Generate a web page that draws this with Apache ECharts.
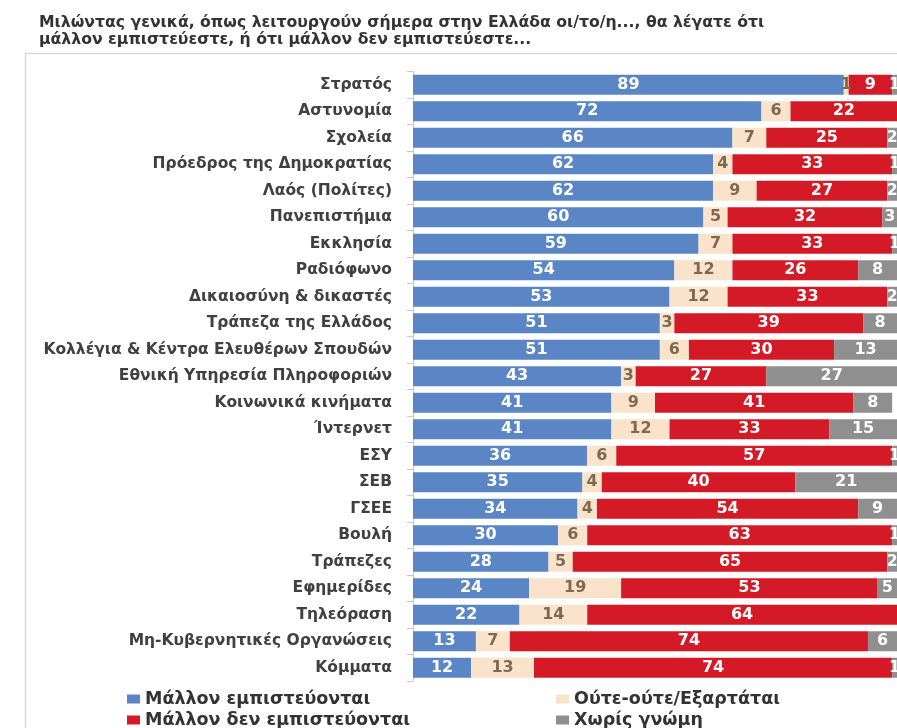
<!DOCTYPE html>
<html>
<head>
<meta charset="utf-8">
<script src="https://cdn.jsdelivr.net/npm/echarts@6/dist/echarts.min.js"></script>
<style>
html,body{margin:0;padding:0;background:#fff;}
#c{width:897px;height:728px;}
</style>
</head>
<body>
<div id="c"></div>
<script>
const categories = [
  'Στρατός','Αστυνομία','Σχολεία','Πρόεδρος της Δημοκρατίας','Λαός (Πολίτες)','Πανεπιστήμια',
  'Εκκλησία','Ραδιόφωνο','Δικαιοσύνη & δικαστές','Τράπεζα της Ελλάδος',
  'Κολλέγια & Κέντρα Ελευθέρων Σπουδών','Εθνική Υπηρεσία Πληροφοριών','Κοινωνικά κινήματα',
  'Ίντερνετ','ΕΣΥ','ΣΕΒ','ΓΣΕΕ','Βουλή','Τράπεζες','Εφημερίδες','Τηλεόραση',
  'Μη-Κυβερνητικές Οργανώσεις','Κόμματα'
];
const trust     = [89,72,66,62,62,60,59,54,53,51,51,43,41,41,36,35,34,30,28,24,22,13,12];
const neutral   = [1, 6, 7, 4, 9, 5, 7,12,12, 3, 6, 3, 9,12, 6, 4, 4, 6, 5,19,14, 7,13];
const distrust  = [9,22,25,33,27,32,33,26,33,39,30,27,41,33,57,40,54,63,65,53,64,74,74];
const noOpinion = [1, 0, 2, 1, 2, 3, 1, 8, 2, 8,13,27, 8,15, 1,21, 9, 1, 2, 5, 0, 6, 1];
const seriesNames = ['Μάλλον εμπιστεύονται','Ούτε-ούτε/Εξαρτάται','Μάλλον δεν εμπιστεύονται','Χωρίς γνώμη'];
const titleLines = [
  'Μιλώντας γενικά, όπως λειτουργούν σήμερα στην Ελλάδα οι/το/η..., θα λέγατε ότι',
  'μάλλον εμπιστεύεστε, ή ότι μάλλον δεν εμπιστεύεστε...'
];

const colors = ['#5a86c5','#fbe3cb','#d31a26','#8f8f8f'];
const labelColors = ['#ffffff','#7d6a50','#ffffff','#ffffff'];
const values = [trust, neutral, distrust, noOpinion];

const chart = echarts.init(document.getElementById('c'));
const font = '"DejaVu Sans", Verdana, sans-serif';
const legendPos = [[127, 690], [556, 690], [127, 711], [556, 711]];
chart.setOption({
  animation: false,
  backgroundColor: '#ffffff',
  title: {
    text: titleLines.join('\n'),
    left: 39, top: 14, padding: 0,
    textStyle: {fontFamily: font, fontWeight: 'bold', fontSize: 15.7, color: '#333333', lineHeight: 17}
  },
  graphic: [{
    type: 'rect', left: 23, top: 51, silent: true,
    shape: {width: 900, height: 700},
    style: {fill: 'none', stroke: '#d9d9d9', lineWidth: 1.5}
  }],
  legend: seriesNames.map((n, i) => ({
    data: [n], left: legendPos[i][0], top: legendPos[i][1], padding: 0,
    itemWidth: 13, itemHeight: 9, itemGap: 0, icon: 'rect',
    textStyle: {fontFamily: font, fontWeight: 'bold', fontSize: 17.5, color: '#333333', lineHeight: 18}
  })),
  grid: {left: 413, right: -4, top: 71.5, bottom: 47, containLabel: false},
  xAxis: {type: 'value', min: 0, max: 100, show: false},
  yAxis: {
    type: 'category', data: categories, inverse: true,
    axisLine: {show: true, lineStyle: {color: '#c8c8c8', width: 1}},
    axisTick: {show: true, length: 6, lineStyle: {color: '#c8c8c8'}},
    axisLabel: {margin: 21, fontFamily: font, fontWeight: 'bold', fontSize: 15.5, color: '#404040'}
  },
  series: values.map((v, i) => ({
    name: seriesNames[i], type: 'bar', stack: 'all', data: v, barWidth: 20,
    itemStyle: {color: colors[i]},
    label: {show: true, position: 'inside', color: labelColors[i],
      fontFamily: font, fontWeight: 'bold', fontSize: 16,
      formatter: p => p.value > 0 ? String(p.value) : ''}
  }))
});
</script>
</body>
</html>
